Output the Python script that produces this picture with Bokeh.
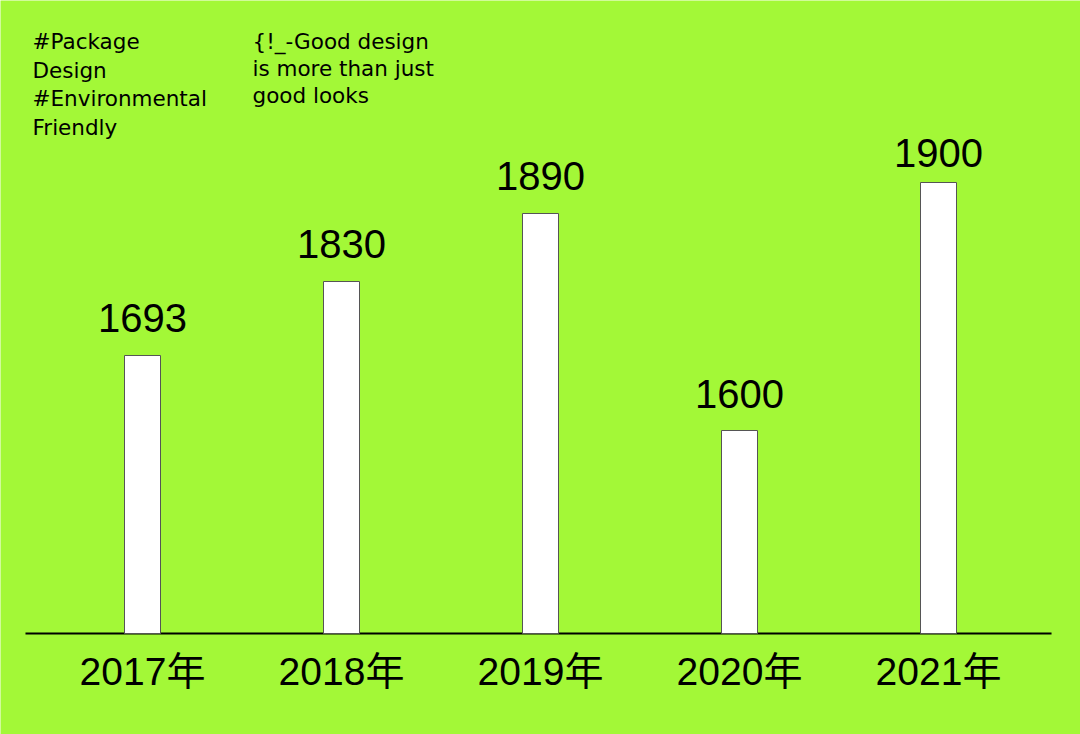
from bokeh.plotting import figure
from bokeh.models import Range1d, Label, ColumnDataSource
from bokeh.core.properties import value
from bokeh.transform import dodge
from bokeh.embed import file_html
from bokeh.resources import INLINE

# ---- data ----
years = ["2017年", "2018年", "2019年", "2020年", "2021年"]
values = ["1693", "1830", "1890", "1600", "1900"]
bar_heights = [278, 352, 420, 203, 451]  # drawn heights
left_notes = ["#Package", "Design", "#Environmental", "Friendly"]
right_notes = ["{!_-Good design", "is more than just", "good looks"]

# ---- layout / style ----
label_gap = [38, 38, 38, 37, 30]  # space between bar top and its value label
BG = "#a3f837"
W, H = 1080, 734
STEP = 199.0  # px per category

p = figure(width=W, height=H, output_backend="svg", toolbar_location=None,
           x_range=Range1d(-142 / STEP, 938 / STEP), y_range=Range1d(-101, 633),
           min_border_left=0, min_border_right=0, min_border_top=0,
           min_border_bottom=0)
p.background_fill_color = BG
p.border_fill_color = BG
p.outline_line_color = None
p.xgrid.visible = False
p.ygrid.visible = False
p.xaxis.visible = False
p.yaxis.visible = False

idx = list(range(len(years)))
src = ColumnDataSource(dict(x=idx, h=bar_heights, v=values, yr=years,
                            lab_y=[h + g for h, g in zip(bar_heights, label_gap)],
                            base=[0] * len(idx)))

# baseline spanning a little beyond the outer bars
p.segment(x0=[idx[0] - 0.588], x1=[idx[-1] + 0.568], y0=[0], y1=[0],
          line_color="black", line_width=2)

p.vbar(x="x", top="h", bottom=0, width=36 / STEP, source=src,
       fill_color="white", line_color="#555555", line_width=1)

p.text(x="x", y="lab_y", text="v", source=src,
       text_align="center", text_baseline="alphabetic",
       text_font=value("Liberation Sans"), text_font_size="40px",
       text_color="black")

p.text(x="x", y=dodge("base", -38), text="yr", source=src,
       text_align="center", text_baseline="alphabetic",
       text_font=value("Liberation Sans, Noto Sans CJK SC"), text_font_size="39px",
       text_color="black")

NOTE_FONT = "DejaVu Sans"
for i, t in enumerate(left_notes):
    p.add_layout(Label(x=(32 - 142) / STEP, y=633 - (41 + 28.5 * i), text=t,
                       text_font=NOTE_FONT, text_font_size="21.5px",
                       text_baseline="alphabetic", text_color="black"))
for i, t in enumerate(right_notes):
    p.add_layout(Label(x=(252 - 142) / STEP, y=633 - (41 + 27 * i), text=t,
                       text_font=NOTE_FONT, text_font_size="21.5px",
                       text_baseline="alphabetic", text_color="black"))

open("out.html", "w").write(file_html(p, INLINE))
